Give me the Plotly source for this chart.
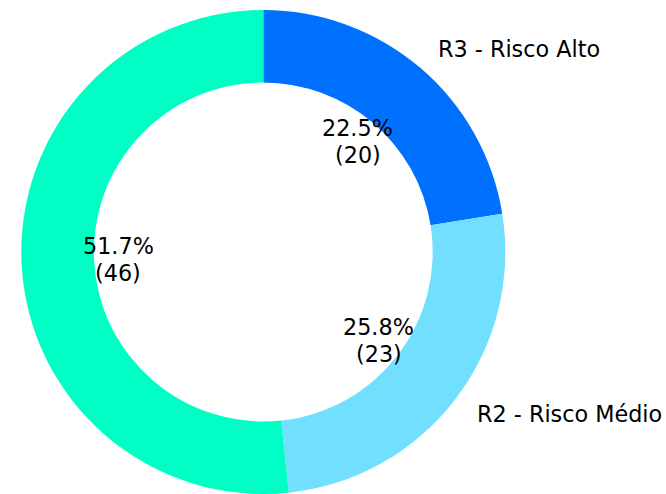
import math
import plotly.graph_objects as go

# ---- data ----
categories = ["R3 - Risco Alto", "R2 - Risco Médio", "R1 - Risco Baixo"]
counts = [20, 23, 46]
colors = ["#0070FF", "#73DFFF", "#00FFC4"]

W, H = 666, 494
FONT = "DejaVu Sans"
FS = 22.3

# pie geometry (paper domain)
R_PX = 242.0
CX_PX = 263.3
dom_x = [(CX_PX - R_PX) / W, (CX_PX + R_PX) / W]
dom_y = [0.0, 2 * R_PX / H]
cy_from_bottom = (dom_y[0] + dom_y[1]) / 2 * H

fig = go.Figure(go.Pie(
    labels=categories,
    values=counts,
    marker=dict(colors=colors, line=dict(width=0)),
    hole=0.7,
    sort=False,
    direction="clockwise",
    rotation=0,
    textinfo="none",
    hoverinfo="label+value+percent",
    showlegend=False,
    domain=dict(x=dom_x, y=dom_y),
))

total = sum(counts)
cum = 0.0
annotations = []
line_gap = 1.2 * FS
for name, v in zip(categories, counts):
    frac = v / total
    theta = math.radians(90 - 360 * (cum + frac / 2))
    cum += frac
    # percentage + count inside (pctdistance 0.6)
    px = CX_PX + 0.6 * R_PX * math.cos(theta)
    py = cy_from_bottom + 0.6 * R_PX * math.sin(theta)
    for txt, shift in ((f"{100 * frac:.1f}%", line_gap / 2), (f"({v})", -line_gap / 2)):
        annotations.append(dict(
            x=px / W, y=py / H, xref="paper", yref="paper",
            text=txt, showarrow=False, xanchor="center", yanchor="middle",
            yshift=shift, font=dict(family=FONT, size=FS, color="#000000"),
        ))
    # category label (labeldistance 1.1); the reference shows only those on canvas
    lx = CX_PX + 1.1 * R_PX * math.cos(theta)
    ly = cy_from_bottom + 1.1 * R_PX * math.sin(theta)
    if 0 < lx < W:
        annotations.append(dict(
            x=lx / W, y=ly / H, xref="paper", yref="paper",
            text=name, showarrow=False,
            xanchor="left" if math.cos(theta) > 0 else "right", yanchor="middle",
            font=dict(family=FONT, size=FS, color="#000000"),
        ))

fig.update_layout(
    width=W, height=H,
    margin=dict(l=0, r=0, t=0, b=0),
    paper_bgcolor="white",
    plot_bgcolor="white",
    annotations=annotations,
)

fig.write_html(
    "out.html",
    config={"displayModeBar": False},
    post_script="document.body.style.margin='0';document.body.style.overflow='hidden';",
)
